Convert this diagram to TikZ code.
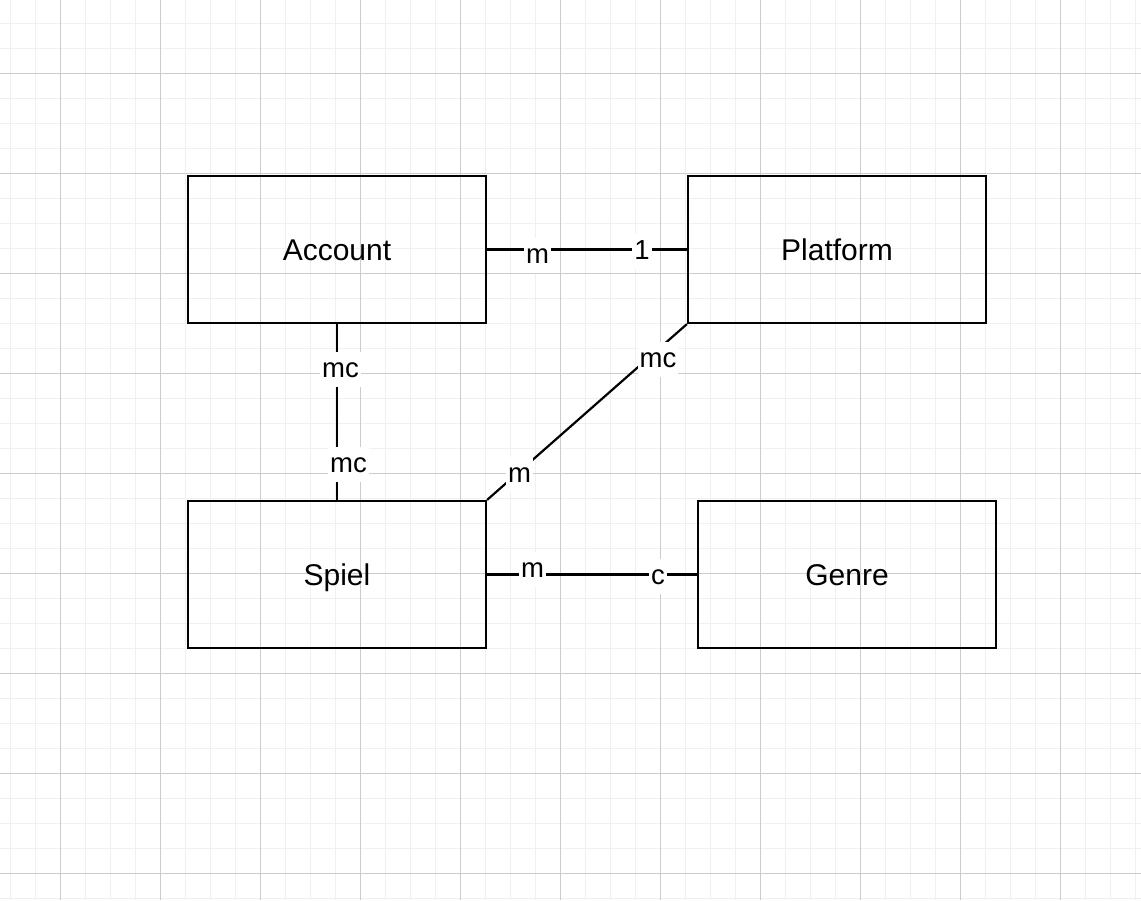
\documentclass[tikz,border=0pt]{standalone}
\usepackage{fontspec}
\setmainfont{Liberation Sans}

\begin{document}
\begin{tikzpicture}[x=1pt, y=-1pt,
  entity/.style={draw, rectangle, line width=2.2pt, minimum width=298pt, minimum height=147pt, inner sep=0pt, font=\fontsize{30}{36}\selectfont, text height=21.6pt, text depth=0pt},
  card/.style={fill=white, anchor=base, inner xsep=2pt, inner ysep=1.5pt, font=\fontsize{27.5}{33}\selectfont, text height=23.4pt, text depth=8.2pt},
  rel/.style={line width=2.2pt},
  minorline/.style={black!6, line width=1pt},
  majorline/.style={black!20, line width=1pt}]
  \useasboundingbox (0,0) rectangle (1141,900);
  \fill[white] (0,0) rectangle (1141,900);
  % Draw the grid
  \foreach \x in {10,35,...,1135} \draw[minorline] (\x,0) -- (\x,900);
  \foreach \y in {23,48,...,898} \draw[minorline] (0,\y) -- (1141,\y);
  \foreach \x in {60,160,...,1060} \draw[majorline] (\x,0) -- (\x,900);
  \foreach \y in {73,173,...,873} \draw[majorline] (0,\y) -- (1141,\y);
  % Draw the entities
  \node[entity] (account) at (337,249.5) {Account};
  \node[entity] (platform) at (837,249.5) {Platform};
  \node[entity] (spiel) at (337,574.5) {Spiel};
  \node[entity] (genre) at (847,574.5) {Genre};
  % Draw the relations
  \draw[rel] (account.east) -- (platform.west);
  \draw[rel] (account.south) -- (spiel.north);
  \draw[rel] (platform.south west) -- (spiel.north east);
  \draw[rel] (spiel.east) -- (genre.west);
  % Draw the cardinalities
  \node[card] (ap1) at (537.5,263) {m};
  \node[card] (ap2) at (642,259) {1};
  \node[card] (as1) at (340.5,377) {mc};
  \node[card] (as2) at (348.5,472) {mc};
  \node[card] (ps1) at (658,367) {mc};
  \node[card] (ps2) at (519.5,482) {m};
  \node[card] (sg1) at (532.5,577) {m};
  \node[card] (sg2) at (658,584) {c};
\end{tikzpicture}
\end{document}
